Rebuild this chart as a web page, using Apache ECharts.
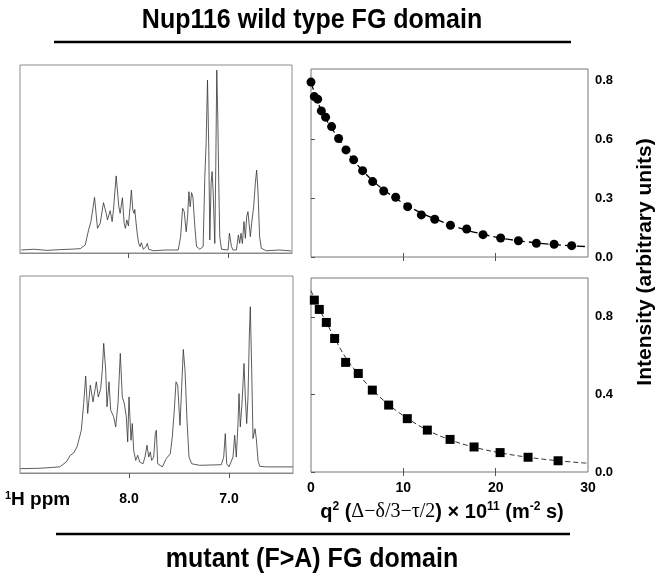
<!DOCTYPE html>
<html>
<head>
<meta charset="utf-8">
<script src="https://cdn.jsdelivr.net/npm/echarts@6/dist/echarts.min.js"></script>
<style>
html,body{margin:0;padding:0;background:#fff}
#main{width:661px;height:577px}
</style>
</head>
<body>
<div id="main"></div>
<script>
// 1H spectrum, wild type (ppm / intensity)
var wtPpm = [9.078,8.952,8.818,8.685,8.552,8.485,8.435,8.402,8.378,8.342,8.312,8.285,8.252,8.225,8.212,8.185,8.165,8.152,8.125,8.098,8.085,8.062,8.045,8.032,8.018,8.002,7.985,7.972,7.958,7.945,7.938,7.928,7.912,7.898,7.885,7.872,7.852,7.825,7.812,7.798,7.752,7.618,7.502,7.478,7.458,7.442,7.422,7.408,7.395,7.382,7.368,7.355,7.335,7.318,7.285,7.252,7.235,7.222,7.208,7.195,7.185,7.172,7.162,7.152,7.135,7.125,7.115,7.105,7.095,7.085,7.068,7.002,6.988,6.978,6.968,6.952,6.918,6.898,6.885,6.872,6.858,6.842,6.828,6.815,6.802,6.788,6.778,6.765,6.745,6.728,6.715,6.702,6.685,6.668,6.618,6.485,6.368]
var wtInt = [1.6,2.0,1.4,1.8,2.1,2.3,4.3,12.2,16.7,29.6,13.1,15.8,26.8,21.1,17.6,22.5,16.7,22.9,41.0,24.6,21.1,29.4,15.8,13.1,17.6,14.4,24.6,33.5,22.9,21.1,23.2,17.6,9.6,5.1,3.4,5.5,2.0,3.4,5.1,2.0,1.2,1.6,1.6,8.7,23.8,22.0,11.3,19.3,32.6,24.6,32.1,30.0,14.0,3.4,2.0,3.4,40.6,58.3,92.0,54.8,6.9,37.1,43.3,33.5,5.1,45.9,97.3,72.5,37.1,8.7,2.0,1.6,10.5,11.3,3.4,1.6,1.6,9.6,5.1,10.5,5.1,16.7,7.8,19.3,22.0,21.1,8.7,15.8,24.6,37.1,44.1,33.5,8.7,2.5,1.2,1.6,1.1]

// 1H spectrum, mutant (F>A)
var mutPpm = [9.087,8.893,8.693,8.627,8.587,8.553,8.52,8.477,8.453,8.433,8.413,8.387,8.36,8.327,8.307,8.283,8.267,8.253,8.233,8.22,8.2,8.183,8.167,8.153,8.133,8.11,8.087,8.067,8.047,8.027,8.013,8.0,7.99,7.98,7.967,7.953,7.933,7.913,7.893,7.86,7.84,7.82,7.803,7.787,7.773,7.753,7.737,7.727,7.713,7.693,7.667,7.627,7.587,7.567,7.547,7.53,7.513,7.49,7.473,7.457,7.44,7.42,7.4,7.373,7.293,7.077,7.053,7.037,7.023,7.0,6.96,6.943,6.927,6.91,6.9,6.887,6.87,6.85,6.837,6.823,6.81,6.797,6.787,6.773,6.76,6.74,6.727,6.71,6.693,6.627,6.36]
var mutInt = [2.2,2.4,3.1,5.6,9.0,10.2,13.2,21.7,35.3,49.2,30.2,44.6,36.1,46.3,38.6,42.9,52.2,65.8,52.2,33.6,46.3,31.9,32.7,28.5,23.4,35.3,60.7,38.6,35.3,28.5,15.8,38.6,39.5,16.6,25.1,11.5,6.4,9.0,5.6,4.7,8.1,14.1,8.1,10.7,6.4,8.1,20.0,21.7,4.7,3.9,3.1,7.3,9.8,18.3,31.9,46.3,44.6,24.2,43.7,62.7,52.2,26.8,8.1,4.7,3.9,4.2,8.1,20.0,4.7,3.1,8.1,19.2,8.1,25.1,40.3,23.4,35.3,55.6,38.6,25.1,38.6,69.2,84.4,52.2,17.5,22.5,17.5,6.4,3.4,3.1,3.1]

// diffusion decay, wild type
var wtQ = [0,0.36,0.72,1.12,1.58,2.23,2.99,3.79,4.62,5.59,6.68,7.87,9.17,10.47,11.95,13.4,15.1,16.86,18.63,20.54,22.46,24.41,26.33,28.23]
var wtI = [0.893,0.819,0.806,0.746,0.714,0.666,0.605,0.547,0.496,0.441,0.385,0.337,0.305,0.257,0.215,0.193,0.162,0.143,0.114,0.097,0.083,0.070,0.065,0.058]
var wtFitQ = [0,1.12,2.99,5.59,9.17,13.4,18.63,24.41,30]
var wtFitI = [0.893,0.750,0.605,0.441,0.300,0.195,0.116,0.072,0.053]

// diffusion decay, mutant
var mutQ = [0.36,0.90,1.66,2.56,3.75,5.12,6.64,8.41,10.43,12.6,15.06,17.66,20.48,23.51,26.76]
var mutI = [0.886,0.838,0.771,0.688,0.565,0.508,0.422,0.345,0.275,0.216,0.168,0.129,0.100,0.076,0.058]
var mutFitQ = [0,0.9,1.66,2.56,3.75,5.12,6.64,8.41,10.43,12.6,15.06,17.66,20.48,23.51,26.76,30]
var mutFitI = [0.935,0.840,0.771,0.690,0.590,0.505,0.425,0.347,0.277,0.216,0.166,0.128,0.099,0.076,0.058,0.045]

var ppmTicks = [8, 7]
var qTicks = [0, 10, 20, 30]
var qInner = [10, 20]
var wtYVals = [0, 0.3, 0.6, 0.9]
var wtYLabels = ['0.0', '0.3', '0.6', '0.8']
var mutYVals = [0, 0.4, 0.8]
var mutYLabels = ['0.0', '0.4', '0.8']

function zip(a, b) {
	var r = []
	for (var i = 0; i < a.length; i++) {
		r.push([a[i], b[i]])
	}
	return r
}

function lab(vals, labels) {
	return function (v) {
		for (var i = 0; i < vals.length; i++) {
			if (Math.abs(vals[i] - v) < 1e-6) return labels[i]
		}
		return ''
	}
}

var bold = 'Liberation Sans, Arial, sans-serif'
var gray = '#8a8a8a'

function ppmAxis(grid, showLabel) {
	return {
		type: 'value', gridIndex: grid, inverse: true, min: 6.36, max: 9.09, offset: 10,
		axisLine: { show: true, lineStyle: { color: gray, width: 1 } },
		axisTick: { show: true, customValues: ppmTicks, length: 5, lineStyle: { color: '#555' } },
		axisLabel: {
			show: showLabel, customValues: ppmTicks, margin: 9,
			formatter: function (v) { return v.toFixed(1) },
			color: '#000', fontFamily: bold, fontWeight: 'bold', fontSize: 14
		},
		splitLine: { show: false }
	}
}

function qAxis(grid, pos, showLabel) {
	return {
		type: 'value', gridIndex: grid, position: pos, min: 0, max: 30,
		axisLine: { show: false },
		axisTick: { show: true, inside: true, customValues: qInner, length: 4, lineStyle: { color: '#555' } },
		axisLabel: {
			show: showLabel, customValues: qTicks, margin: 9,
			color: '#000', fontFamily: bold, fontWeight: 'bold', fontSize: 14
		},
		splitLine: { show: false }
	}
}

function intAxis(grid, max, vals, labels) {
	return {
		type: 'value', gridIndex: grid, position: 'right', min: 0, max: max,
		axisLine: { show: false },
		axisTick: { show: true, customValues: vals, length: 4, lineStyle: { color: '#555' } },
		axisLabel: {
			customValues: vals, margin: 7, formatter: lab(vals, labels),
			color: '#000', fontFamily: bold, fontWeight: 'bold', fontSize: 13
		},
		splitLine: { show: false }
	}
}

function leftAxis(grid, max, vals) {
	return {
		type: 'value', gridIndex: grid, position: 'left', min: 0, max: max,
		axisLine: { show: false },
		axisTick: { show: true, inside: true, customValues: vals, length: 3, lineStyle: { color: '#555' } },
		axisLabel: { show: false },
		splitLine: { show: false }
	}
}

var myChart = echarts.init(document.getElementById('main'), null, { renderer: 'canvas' })

var option = {
	backgroundColor: '#fff',
	animation: false,
	grid: [
		{ left: 20, top: 65, width: 272, height: 188, show: true, borderColor: gray, borderWidth: 1 },
		{ left: 20, top: 276, width: 273, height: 197, show: true, borderColor: gray, borderWidth: 1 },
		{ left: 311, top: 69, width: 277, height: 188, show: true, borderColor: '#777', borderWidth: 1 },
		{ left: 311, top: 278, width: 277, height: 194, show: true, borderColor: '#777', borderWidth: 1 }
	],
	xAxis: [
		ppmAxis(0, false),
		ppmAxis(1, true),
		qAxis(2, 'bottom', false),
		qAxis(2, 'top', false),
		qAxis(3, 'bottom', true),
		qAxis(3, 'top', false)
	],
	yAxis: [
		{ type: 'value', gridIndex: 0, min: 0, max: 100, show: false },
		{ type: 'value', gridIndex: 1, min: 0, max: 100, show: false },
		intAxis(2, 0.96, wtYVals, wtYLabels),
		leftAxis(2, 0.96, wtYVals),
		intAxis(3, 1.0, mutYVals, mutYLabels),
		leftAxis(3, 1.0, mutYVals)
	],
	series: [
		{
			type: 'line', xAxisIndex: 0, yAxisIndex: 0, data: zip(wtPpm, wtInt),
			showSymbol: false, lineStyle: { color: '#333', width: 0.8 }
		},
		{
			type: 'line', xAxisIndex: 1, yAxisIndex: 1, data: zip(mutPpm, mutInt),
			showSymbol: false, lineStyle: { color: '#333', width: 0.8 }
		},
		{
			type: 'line', xAxisIndex: 2, yAxisIndex: 2, data: zip(wtFitQ, wtFitI), smooth: 0.4,
			showSymbol: false, lineStyle: { color: '#000', width: 1.3, type: [8, 4] }, z: 1
		},
		{
			type: 'scatter', xAxisIndex: 2, yAxisIndex: 2, data: zip(wtQ, wtI),
			symbol: 'circle', symbolSize: 9, itemStyle: { color: '#000', opacity: 1 }, z: 3
		},
		{
			type: 'line', xAxisIndex: 4, yAxisIndex: 4, data: zip(mutFitQ, mutFitI), smooth: 0.4,
			showSymbol: false, lineStyle: { color: '#333', width: 1, type: [5, 3] }, z: 1
		},
		{
			type: 'scatter', xAxisIndex: 4, yAxisIndex: 4, data: zip(mutQ, mutI),
			symbol: 'rect', symbolSize: 9, itemStyle: { color: '#000', opacity: 1 }, z: 3
		}
	],
	graphic: [
		{
			type: 'text', x: 312, y: 20, scaleY: 1.12,
			style: { text: 'Nup116 wild type FG domain', fill: '#000', font: 'bold 25px ' + bold, align: 'center', verticalAlign: 'middle' }
		},
		{ type: 'line', shape: { x1: 54, y1: 42, x2: 571, y2: 42 }, style: { stroke: '#000', lineWidth: 2.5 } },
		{ type: 'line', shape: { x1: 56, y1: 534, x2: 570, y2: 534 }, style: { stroke: '#000', lineWidth: 2.5 } },
		{
			type: 'text', x: 312, y: 559, scaleY: 1.12,
			style: { text: 'mutant (F>A) FG domain', fill: '#000', font: 'bold 25px ' + bold, align: 'center', verticalAlign: 'middle' }
		},
		{
			type: 'text', x: 5, y: 500,
			style: {
				text: '{s|1}{b|H ppm}', align: 'left', verticalAlign: 'middle',
				rich: {
					b: { fontFamily: bold, fontWeight: 'bold', fontSize: 19, fill: '#000', lineHeight: 20 },
					s: { fontFamily: bold, fontWeight: 'bold', fontSize: 11, fill: '#000', verticalAlign: 'top', lineHeight: 11 }
				}
			}
		},
		{
			type: 'text', x: 442, y: 512,
			style: {
				text: '{b|q}{s|2}{b| (}{g|Δ−δ/3−τ/2}{b|) × 10}{s|11}{b| (m}{s|-2}{b| s)}',
				align: 'center', verticalAlign: 'middle',
				rich: {
					b: { fontFamily: bold, fontWeight: 'bold', fontSize: 20, fill: '#000', lineHeight: 22 },
					g: { fontFamily: 'Liberation Serif, Times New Roman, serif', fontSize: 20, fill: '#000', lineHeight: 22 },
					s: { fontFamily: bold, fontWeight: 'bold', fontSize: 12, fill: '#000', verticalAlign: 'top', lineHeight: 12 }
				}
			}
		},
		{
			type: 'text', x: 645, y: 262, rotation: Math.PI / 2,
			style: {
				text: 'Intensity (arbitrary units)', fill: '#000', font: 'bold 21px ' + bold,
				align: 'center', verticalAlign: 'middle'
			}
		}
	]
}

myChart.setOption(option)
</script>
</body>
</html>
